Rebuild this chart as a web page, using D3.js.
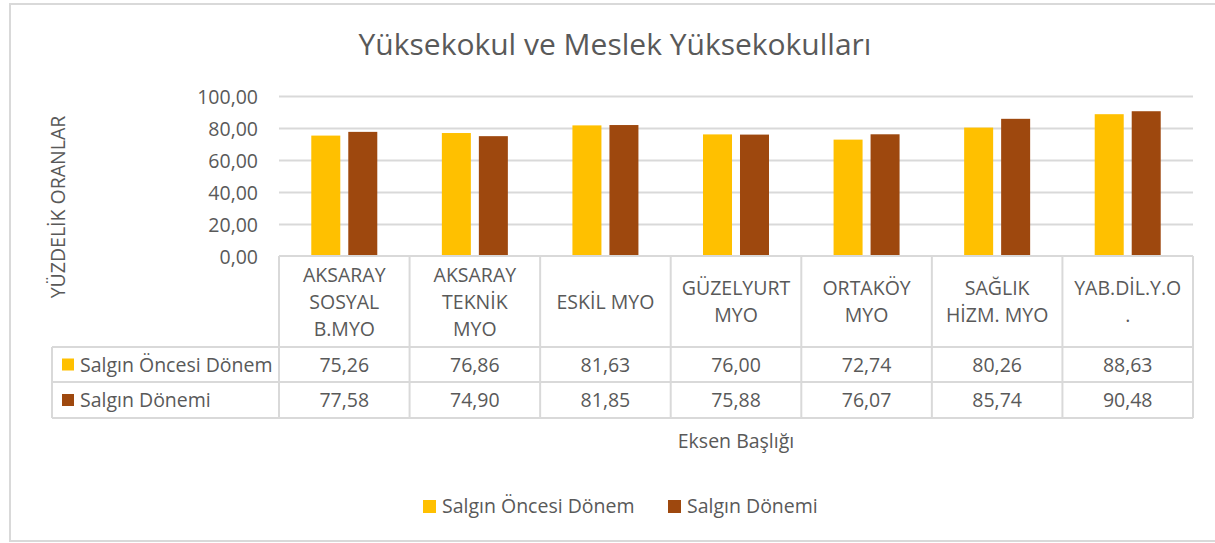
<!DOCTYPE html>
<html>
<head>
<meta charset="utf-8">
<script src="https://cdn.jsdelivr.net/npm/d3@7"></script>
<style>
  html, body { margin: 0; padding: 0; background: #fff; }
  svg { display: block; font-family: "Open Sans", sans-serif; }
  text { fill: #595959; }
</style>
</head>
<body>
<svg id="chart" width="1215" height="543"></svg>
<script>
const title = "Yüksekokul ve Meslek Yüksekokulları";
const yAxisTitle = "YÜZDELİK ORANLAR";
const xAxisTitle = "Eksen Başlığı";
const categories = ["AKSARAY SOSYAL B.MYO", "AKSARAY TEKNİK MYO", "ESKİL MYO", "GÜZELYURT MYO", "ORTAKÖY MYO", "SAĞLIK HİZM. MYO", "YAB.DİL.Y.O."];
const seriesNames = ["Salgın Öncesi Dönem", "Salgın Dönemi"];
const preValues = [75.26, 76.86, 81.63, 76.00, 72.74, 80.26, 88.63];
const duringValues = [77.58, 74.90, 81.85, 75.88, 76.07, 85.74, 90.48];
const yTicks = [0, 20, 40, 60, 80, 100];
const colors = ["#FFC000", "#9E480E"];

const series = [preValues, duringValues];
const locale = d3.formatLocale({decimal: ",", thousands: ".", grouping: [3], currency: ["", "₺"]});
const fmt = locale.format(".2f");

const svg = d3.select("#chart");
const FS = 19.5;
const grid = "#D9D9D9";

// chart border
svg.append("rect").attr("x", 10).attr("y", 4).attr("width", 1215).attr("height", 537)
  .attr("fill", "none").attr("stroke", grid).attr("stroke-width", 2);

const plotL = 279, plotR = 1193, plotT = 96, plotB = 256;
const tableLeft = 52, headerB = 347, row1B = 382, row2B = 418;

const x = d3.scaleBand().domain(categories).range([plotL, plotR]).paddingInner(0).paddingOuter(0);
const groupW = 66;
const x1 = d3.scaleBand().domain(seriesNames).range([0, groupW]).paddingInner(0.216).paddingOuter(0);
const y = d3.scaleLinear().domain([0, 100]).range([plotB, plotT]);

// title
svg.append("text").attr("x", 615).attr("y", 55).attr("text-anchor", "middle")
  .style("font-size", "30px").text(title);

// gridlines
const gridG = svg.append("g").attr("transform", `translate(${plotL},0)`)
  .call(d3.axisLeft(y).tickValues(yTicks.filter(d => d !== 0)).tickSize(-(plotR - plotL)).tickFormat(""));
gridG.select(".domain").remove();
gridG.selectAll("line").attr("stroke", grid).attr("stroke-width", 2);

// y axis labels
const yAx = svg.append("g").attr("transform", `translate(${plotL},0)`)
  .call(d3.axisLeft(y).tickValues(yTicks).tickSize(0).tickPadding(21).tickFormat(fmt));
yAx.select(".domain").remove();
yAx.selectAll("text").style("font-size", FS + "px").style("font-family", "Open Sans").attr("fill", "#595959").attr("dy", "0.36em");

// bars
const groups = svg.append("g").selectAll("g").data(categories).join("g")
  .attr("transform", d => `translate(${x(d) + (x.bandwidth() - groupW) / 2},0)`);
groups.selectAll("rect").data((d, i) => seriesNames.map((s, j) => ({s, v: series[j][i], j})))
  .join("rect")
  .attr("x", d => x1(d.s))
  .attr("width", x1.bandwidth())
  .attr("y", d => y(d.v))
  .attr("height", d => y(0) - y(d.v))
  .attr("fill", d => colors[d.j]);

// y axis title
svg.append("text").attr("transform", `translate(65,207) rotate(-90)`)
  .attr("text-anchor", "middle").style("font-size", FS + "px").text(yAxisTitle);

// data table lines
const tl = svg.append("g").attr("stroke", grid).attr("stroke-width", 2).attr("fill", "none");
tl.append("line").attr("x1", plotL).attr("x2", plotR).attr("y1", y(0)).attr("y2", y(0));
[headerB, row1B, row2B].forEach(yy => tl.append("line").attr("x1", tableLeft).attr("x2", plotR).attr("y1", yy).attr("y2", yy));
tl.append("line").attr("x1", tableLeft).attr("x2", tableLeft).attr("y1", headerB).attr("y2", row2B);
categories.concat([null]).forEach((c, i) => {
  const xx = c === null ? plotR : x(c);
  tl.append("line").attr("x1", xx).attr("x2", xx).attr("y1", y(0)).attr("y2", row2B);
});

// category header (wrapped)
const maxW = 111;
const measurer = svg.append("text").style("font-size", FS + "px");
function tw(s) { measurer.text(s); return measurer.node().getComputedTextLength(); }
function wrap(label) {
  const words = label.split(" ");
  const lines = [];
  let cur = "";
  words.forEach(w => {
    const t = cur ? cur + " " + w : w;
    if (tw(t) <= maxW || !cur) { cur = t; } else { lines.push(cur); cur = w; }
  });
  lines.push(cur);
  const out = [];
  lines.forEach(l => {
    if (tw(l) <= maxW) { out.push(l); return; }
    let part = "";
    for (const ch of l) {
      if (tw(part + ch) > maxW && part) { out.push(part); part = ch; } else part += ch;
    }
    out.push(part);
  });
  return out;
}
const lineH = 27;
const headerC = (y(0) + headerB) / 2;
const xAx = svg.append("g").attr("transform", `translate(0,${headerC})`)
  .call(d3.axisBottom(x).tickSize(0).tickPadding(0));
xAx.select(".domain").remove();
xAx.selectAll("text").each(function(d) {
  const t = d3.select(this);
  const lines = wrap(d);
  t.text(null).attr("y", 0).attr("dy", null)
    .style("font-size", FS + "px").style("font-family", "Open Sans").attr("fill", "#595959");
  lines.forEach((l, i) => {
    t.append("tspan").attr("x", 0).attr("y", (i - (lines.length - 1) / 2) * lineH).attr("dy", "0.36em").text(l);
  });
});
measurer.remove();

// values rows
const rowC = [(headerB + row1B) / 2, (row1B + row2B) / 2];
series.forEach((vals, j) => {
  svg.append("g").selectAll("text").data(vals).join("text")
    .attr("x", (d, i) => x(categories[i]) + x.bandwidth() / 2)
    .attr("y", rowC[j]).attr("dy", "0.36em").attr("text-anchor", "middle")
    .style("font-size", FS + "px").text(d => fmt(d));
  svg.append("rect").attr("x", 62).attr("y", rowC[j] - 6).attr("width", 12).attr("height", 12).attr("fill", colors[j]);
  svg.append("text").attr("x", 80).attr("y", rowC[j]).attr("dy", "0.36em")
    .style("font-size", FS + "px").text(seriesNames[j]);
});

// x axis title
svg.append("text").attr("x", (plotL + plotR) / 2).attr("y", 448).attr("text-anchor", "middle")
  .style("font-size", FS + "px").text(xAxisTitle);

// legend
const legX = [423, 668];
seriesNames.forEach((s, j) => {
  svg.append("rect").attr("x", legX[j]).attr("y", 500).attr("width", 13).attr("height", 13).attr("fill", colors[j]);
  svg.append("text").attr("x", legX[j] + 19).attr("y", 513).style("font-size", FS + "px").text(s);
});
</script>
</body>
</html>
